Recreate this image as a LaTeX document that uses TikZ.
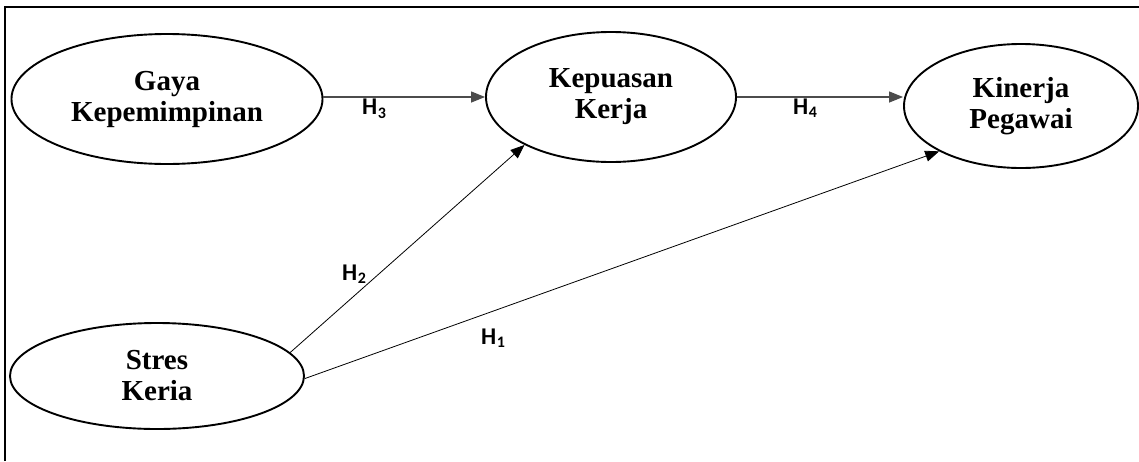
\documentclass[tikz,border=0pt]{standalone}
\usepackage{fontspec}
\setmainfont{Liberation Serif}
\newfontfamily\hfont{Carlito}
\usetikzlibrary{shapes.geometric,arrows.meta}
\tikzset{latent/.style={ellipse,draw,line width=1.9pt,inner sep=0pt,align=center,
                    font=\fontsize{29}{31}\selectfont\bfseries},
         link/.style={-{Triangle[length=14pt,width=11pt]},line width=0.8pt},
         mainlink/.style={link,black!70,line width=1.3pt},
         hlabel/.style={font=\hfont\fontsize{24}{26}\selectfont\bfseries,inner sep=0pt}
    }
\newcommand{\hyp}[1]{H\kern0.5pt\raisebox{-0.3ex}{\fontsize{16}{18}\selectfont #1}}

\begin{document}
\begin{tikzpicture}[x=1pt,y=-1pt]
                \useasboundingbox (0,0) rectangle (1139,461);
                \draw[line width=1.2pt] (5,461)--(5,7)--(1139,7);

                    \node[latent,minimum width=311pt,minimum height=130pt] (gaya) at (167,99) {Gaya\\Kepemimpinan};
                    \node[latent,minimum width=250pt,minimum height=130pt] (kepuasan) at (611,97) {Kepuasan\\Kerja};
                    \node[latent,minimum width=234pt,minimum height=124pt] (kinerja) at (1021,106) {Kinerja\\Pegawai};
                    \node[latent,minimum width=294pt,minimum height=106pt] (stres) at (157,376) {Stres\\Keria};

                    \draw[mainlink] (kepuasan.west -| gaya.east)--(kepuasan.west);
                    \draw[mainlink] (kepuasan.east)--(kepuasan.east -| kinerja.west);
                    \draw[link] (stres.10)--(kepuasan.209);
                    \draw[link] (stres.-1)--(kinerja.209);

                    \node[hlabel] (h3) at (374,109) {\hyp{3}};
                    \node[hlabel] (h4) at (805,108) {\hyp{4}};
                    \node[hlabel] (h2) at (354,274) {\hyp{2}};
                    \node[hlabel] (h1) at (493,338) {\hyp{1}};
            \end{tikzpicture}
\end{document}
